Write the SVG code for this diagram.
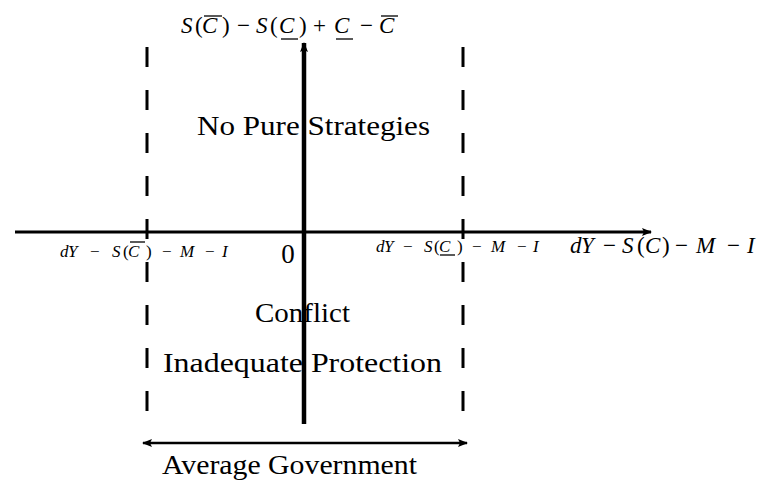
<svg xmlns="http://www.w3.org/2000/svg" width="771" height="484" viewBox="0 0 771 484">
<style>
.t{font-family:"Liberation Serif","DejaVu Serif",serif;fill:#000;font-size:27px}
.m{font-family:"Liberation Serif","DejaVu Serif",serif;font-style:italic;fill:#000}
.r{font-style:normal}
.ax{stroke:#000;fill:none}
.dash{stroke:#000;stroke-width:3;stroke-dasharray:20 23;fill:none}
.ov{stroke:#000;stroke-width:1.3}
</style>
<defs>
<marker id="ah" markerWidth="10" markerHeight="8" refX="9" refY="4" orient="auto" markerUnits="userSpaceOnUse">
<path d="M0,0 L10,4 L0,8 L2,4 Z" fill="#000"/>
</marker>
<marker id="ahs" markerWidth="10" markerHeight="8" refX="1" refY="4" orient="auto" markerUnits="userSpaceOnUse">
<path d="M10,0 L0,4 L10,8 L8,4 Z" fill="#000"/>
</marker>
</defs>
<g id="connectors">
<line class="ax" x1="15" y1="232" x2="651" y2="232" stroke-width="3" marker-end="url(#ah)"/>
<line class="ax" x1="304" y1="424" x2="304" y2="43" stroke-width="4.5" marker-end="url(#ah)"/>
<line class="dash" x1="147" y1="47" x2="147" y2="413"/>
<line class="dash" x1="463" y1="47" x2="463" y2="413"/>
<line class="ax" x1="143" y1="443" x2="467" y2="443" stroke-width="2.5" marker-start="url(#ahs)" marker-end="url(#ah)"/>
</g>
<g id="ylabel">
<text class="m" y="33" font-size="23"><tspan x="181">S</tspan><tspan class="r" x="195">(</tspan><tspan x="202">C</tspan><tspan class="r" x="222">)</tspan><tspan class="r" x="237">−</tspan><tspan x="256">S</tspan><tspan class="r" x="270">(</tspan><tspan x="279">C</tspan><tspan class="r" x="299">)</tspan><tspan class="r" x="313">+</tspan><tspan x="334">C</tspan><tspan class="r" x="360">−</tspan><tspan x="379">C</tspan></text>
<line class="ov" x1="204" y1="16" x2="222" y2="16"/>
<line class="ov" x1="281" y1="39" x2="298" y2="39"/>
<line class="ov" x1="336" y1="39" x2="353" y2="39"/>
<line class="ov" x1="381" y1="16" x2="398" y2="16"/>
</g>
<g id="region-top"><text class="t" x="197" y="135" textLength="233" lengthAdjust="spacingAndGlyphs">No Pure Strategies</text></g>
<g id="region-bottom">
<text class="t" x="255" y="322" textLength="95" lengthAdjust="spacingAndGlyphs">Conflict</text>
<text class="t" x="163" y="372" textLength="279" lengthAdjust="spacingAndGlyphs">Inadequate Protection</text>
</g>
<g id="origin"><text class="t" x="288" y="263" font-size="26" text-anchor="middle">0</text></g>
<g id="xlabel-left">
<text class="m" y="257" font-size="17"><tspan x="60">d</tspan><tspan x="68">Y</tspan><tspan class="r" x="90">−</tspan><tspan x="112">S</tspan><tspan class="r" x="123">(</tspan><tspan x="128">C</tspan><tspan class="r" x="146">)</tspan><tspan class="r" x="162">−</tspan><tspan x="180">M</tspan><tspan class="r" x="205">−</tspan><tspan x="222">I</tspan></text>
<line class="ov" x1="130" y1="242" x2="145" y2="242"/>
</g>
<g id="xlabel-mid">
<text class="m" y="252" font-size="17"><tspan x="376">d</tspan><tspan x="384">Y</tspan><tspan class="r" x="403">−</tspan><tspan x="424">S</tspan><tspan class="r" x="434">(</tspan><tspan x="439">C</tspan><tspan class="r" x="457">)</tspan><tspan class="r" x="472">−</tspan><tspan x="491">M</tspan><tspan class="r" x="517">−</tspan><tspan x="533">I</tspan></text>
<line class="ov" x1="440" y1="255" x2="455" y2="255"/>
</g>
<g id="xlabel-right"><text class="m" y="253" font-size="23"><tspan x="570">d</tspan><tspan x="581">Y</tspan><tspan class="r" x="603">−</tspan><tspan x="622">S</tspan><tspan class="r" x="637">(</tspan><tspan x="645">C</tspan><tspan class="r" x="662">)</tspan><tspan class="r" x="675">−</tspan><tspan x="696">M</tspan><tspan class="r" x="727">−</tspan><tspan x="747">I</tspan></text></g>
<g id="bracket-label"><text class="t" x="162" y="474" textLength="255" lengthAdjust="spacingAndGlyphs">Average Government</text></g>
</svg>
